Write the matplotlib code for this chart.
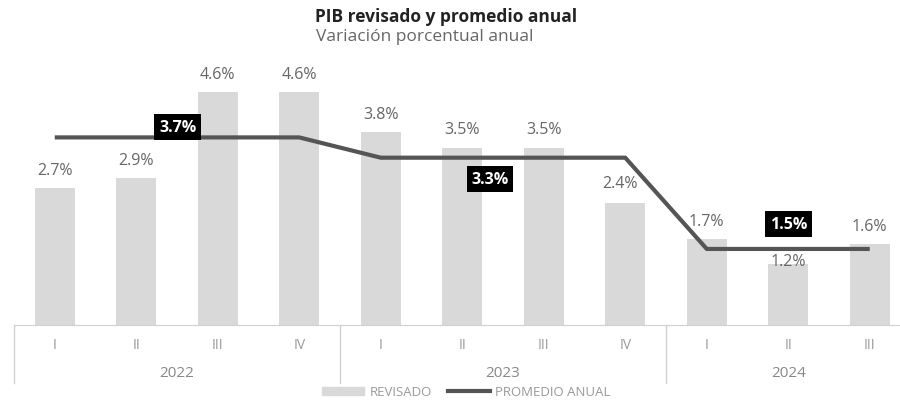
import matplotlib
matplotlib.use('Agg')
import matplotlib.pyplot as plt
import matplotlib.transforms as mtransforms
from matplotlib.patches import Patch
from matplotlib.lines import Line2D

plt.rcParams['font.family'] = ['Open Sans', 'DejaVu Sans']

quarters = ['I', 'II', 'III', 'IV', 'I', 'II', 'III', 'IV', 'I', 'II', 'III']
years = ['2022', '2023', '2024']
year_len = [4, 4, 3]
revisado = [2.7, 2.9, 4.6, 4.6, 3.8, 3.5, 3.5, 2.4, 1.7, 1.2, 1.6]
promedio = [3.7, 3.7, 3.7, 3.7, 3.3, 3.3, 3.3, 3.3, 1.5, 1.5, 1.5]
promedio_anual = [3.7, 3.3, 1.5]

W, H = 900, 402
fig = plt.figure(figsize=(W / 100, H / 100), dpi=100)

ax_left, ax_bottom, ax_top = 14, 326, 60
ax = fig.add_axes([ax_left / W, 1 - ax_bottom / H, 1 - ax_left / W, (ax_bottom - ax_top) / H])
x = list(range(len(revisado)))
ax.bar(x, revisado, width=0.49, color='#d9d9d9', zorder=1)
ax.plot(x, promedio, color='#555555', lw=3, zorder=3, solid_capstyle='butt')

# value labels above the bars
nudge = {9: -0.3, 7: 0.05}
for i, v in enumerate(revisado):
    dx = -0.06 if i == 7 else 0
    ax.text(i + dx, v + 0.36 + nudge.get(i, 0), f'{v:.1f}%', ha='center', va='center',
            fontsize=11.5, color='#666666', zorder=2)

# annual average boxes
box_pos = [(1.51, 3.9), (5.34, 2.88), (9.0, 1.99)]
for (bx, by), v in zip(box_pos, promedio_anual):
    ax.text(bx, by, f'{v:.1f}%', ha='center', va='center', fontsize=11.5, fontweight='bold',
            color='white', zorder=4,
            bbox=dict(boxstyle='square,pad=0.3', fc='black', ec='none'))

xmax = (W - ax_left) / 81.5 - 0.5
ax.set_xlim(-0.5, xmax)
ax.set_ylim(0, (ax_bottom - ax_top) / 50.7)
for s in ['top', 'right', 'left']:
    ax.spines[s].set_visible(False)
ax.spines['bottom'].set_color('#d0d0d0')
ax.set_yticks([])
ax.set_xticks([])

# category axis below
trans = mtransforms.blended_transform_factory(ax.transData, fig.transFigure)
for i, q in enumerate(quarters):
    ax.text(i, 1 - 346 / H, q, transform=trans, ha='center', va='center',
            fontsize=10, color='#999999')
start = 0
seps = [-0.5]
for yr, n in zip(years, year_len):
    ax.text(start + (n - 1) / 2, 1 - 374 / H, yr, transform=trans, ha='center', va='center',
            fontsize=11, color='#888888')
    start += n
    seps.append(start - 0.5)
for s in seps:
    ax.add_line(Line2D([s, s], [1 - ax_bottom / H, 1 - 384 / H], transform=trans,
                       color='#d0d0d0', lw=1, clip_on=False))

fig.text(315 / W, 1 - 17 / H, 'PIB revisado y promedio anual', ha='left', va='center',
         fontsize=12.5, fontweight='bold', color='#222222')
fig.text(316 / W, 1 - 37 / H, 'Variación porcentual anual', ha='left', va='center',
         fontsize=12.5, color='#666666')

handles = [Patch(color='#d9d9d9', label='REVISADO'),
           Line2D([0], [0], color='#555555', lw=3, label='PROMEDIO ANUAL')]
leg = fig.legend(handles=handles, loc='center', bbox_to_anchor=(0.518, 1 - 393 / H), ncol=2,
                 frameon=False, fontsize=9.5, handlelength=3.2, handleheight=0.5,
                 columnspacing=1.2, handletextpad=0.4, borderpad=0)
for t in leg.get_texts():
    t.set_color('#999999')

fig.savefig('out.png', dpi=100)
